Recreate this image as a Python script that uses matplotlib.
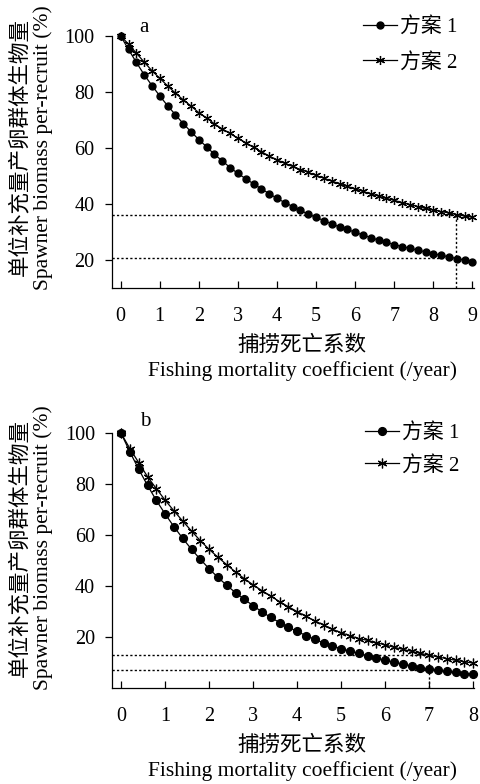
import numpy as np
import matplotlib
matplotlib.use("Agg")
import matplotlib.pyplot as plt

plt.rcParams["font.family"] = ["Liberation Serif", "Noto Sans CJK SC"]

# ---- data -------------------------------------------------------------
# fishing mortality grid (step 0.2)
f_a = np.round(np.arange(0, 9.01, 0.2), 1)
f_b = np.round(np.arange(0, 8.01, 0.2), 1)

# panel a: spawner biomass per recruit (%)
spr_a1 = [100, 95.2, 90.6, 86.2, 82.3, 78.6, 75.1, 71.9, 68.7, 65.8,
          63.0, 60.4, 57.7, 55.4, 53.0, 50.9, 49.0, 47.2, 45.4, 43.7,
          42.0, 40.5, 39.1, 37.7, 36.4, 35.2, 34.1, 32.9, 31.8, 30.9,
          29.9, 28.9, 28.0, 27.1, 26.3, 25.5, 24.8, 24.2, 23.5, 22.9,
          22.2, 21.7, 21.1, 20.5, 20.0, 19.4]
spr_a2 = [100, 97.1, 93.9, 90.7, 87.6, 84.9, 82.2, 79.6, 77.2, 75.0,
          72.6, 70.7, 68.6, 66.8, 65.2, 63.4, 61.9, 60.2, 58.7, 57.1,
          55.8, 54.5, 53.4, 52.3, 51.3, 50.2, 49.2, 48.2, 47.2, 46.3,
          45.4, 44.5, 43.6, 42.8, 42.0, 41.3, 40.5, 39.8, 39.1, 38.4,
          37.9, 37.3, 36.8, 36.2, 35.7, 35.3]

# panel b
spr_b1 = [100, 92.7, 85.9, 79.6, 73.7, 68.4, 63.4, 58.8, 54.5, 50.6,
          46.9, 43.5, 40.4, 37.5, 34.9, 32.4, 30.0, 27.8, 25.8, 24.0,
          22.3, 20.7, 19.2, 17.8, 16.6, 15.5, 14.6, 13.7, 12.8, 11.9,
          11.0, 10.2, 9.5, 8.8, 8.1, 7.5, 7.0, 6.6, 6.2, 5.8, 5.5]
spr_b2 = [100, 94.0, 88.5, 83.0, 78.3, 73.8, 69.6, 65.6, 61.7, 57.9,
          54.5, 51.4, 48.5, 45.6, 43.0, 40.6, 38.3, 36.2, 34.0, 32.0,
          30.1, 28.2, 26.5, 24.8, 23.2, 21.8, 20.6, 19.5, 18.8, 17.9,
          17.0, 16.1, 15.3, 14.5, 13.7, 13.0, 12.3, 11.6, 11.0, 10.4, 9.9]

# reference points (F, SPR scheme 1, SPR scheme 2)
ref_a = (8.57, 20.6, 35.9)
ref_b = (7.0, 7.3, 13.2)

series_names = ["方案 1", "方案 2"]
y_ticks = [20, 40, 60, 80, 100]
y_label_cn = "单位补充量产卵群体生物量"
y_label_en = "Spawner biomass per-recruit (%)"
x_label_cn = "捕捞死亡系数"
x_label_en = "Fishing mortality coefficient (/year)"

# ---- figure -----------------------------------------------------------
W, H = 480, 784
fig = plt.figure(figsize=(W / 100, H / 100), dpi=100)


def fx(px):
    return px / W


def fy(py):
    return 1 - py / H


def panel(rect, f, s1, s2, ref, xlim, ylim, xticks, letter, letter_xy,
          ms_c, ms_s, leg_xy, leg_sp, ylab_cy, xlab_y):
    ax = fig.add_axes(rect)
    ax.plot(f, s1, color="black", lw=0.9, marker="o", ms=ms_c,
            mfc="black", mec="black", clip_on=False, zorder=4,
            label=series_names[0])
    ax.plot(f, s2, color="black", lw=0.9, marker=(6, 2, 0), ms=ms_s,
            mec="black", mew=0.9, clip_on=False, zorder=3,
            label=series_names[1])
    fr, v1, v2 = ref
    dot = dict(color="black", lw=1.0, ls=(0, (1.6, 1.6)), zorder=5)
    ax.plot([xlim[0], fr], [v2, v2], **dot)
    ax.plot([xlim[0], fr], [v1, v1], **dot)
    ax.plot([fr, fr], [ylim[0], v2], **dot)

    ax.set_xlim(*xlim)
    ax.set_ylim(*ylim)
    ax.set_xticks(xticks)
    ax.set_yticks(y_ticks)
    for side in ("top", "right"):
        ax.spines[side].set_visible(False)
    for side in ("left", "bottom"):
        ax.spines[side].set_linewidth(0.9)
    ax.tick_params(axis="x", direction="in", length=5, width=0.9,
                   pad=13.5, labelsize=14.5)
    ax.tick_params(axis="y", direction="out", length=5, width=0.9,
                   pad=7.5, labelsize=14.5)

    fig.text(fx(letter_xy[0]), fy(letter_xy[1]), letter, fontsize=15,
             ha="center", va="center")

    ax.legend(loc="upper left", frameon=False,
              prop=dict(size=15, weight="light"),
              bbox_to_anchor=(fx(leg_xy[0]), fy(leg_xy[1])),
              bbox_transform=fig.transFigure, borderpad=0,
              borderaxespad=0, handlelength=1.65, handletextpad=0.12,
              labelspacing=leg_sp)

    fig.text(fx(20), fy(ylab_cy), y_label_cn, rotation=90, fontsize=15.5,
             fontweight="light", ha="center", va="center")
    fig.text(fx(43), fy(ylab_cy), y_label_en, rotation=90, fontsize=15.5,
             ha="center", va="center")
    fig.text(fx(302), fy(xlab_y[0]), x_label_cn, fontsize=15.5,
             fontweight="light", ha="center", va="center")
    fig.text(fx(302), fy(xlab_y[1]), x_label_en, fontsize=15.5,
             ha="center", va="center")
    return ax


panel([fx(111.7), fy(288), fx(474) - fx(111.7), (288 - 36) / H],
      f_a, spr_a1, spr_a2, ref_a, (-0.23, 9.04), (10, 100), range(10),
      "a", (144, 28), 5.0, 6.5, (363, 17), 0.75, 147.5, (346, 371))

panel([fx(112.3), fy(688.3), fx(474) - fx(112.3), (688.3 - 433.3) / H],
      f_b, spr_b1, spr_b2, ref_b, (-0.2, 8.02), (0, 100), range(9),
      "b", (145, 421), 5.6, 7.0, (365, 423), 0.6, 548, (746, 771))

fig.savefig("out.png", dpi=100)
